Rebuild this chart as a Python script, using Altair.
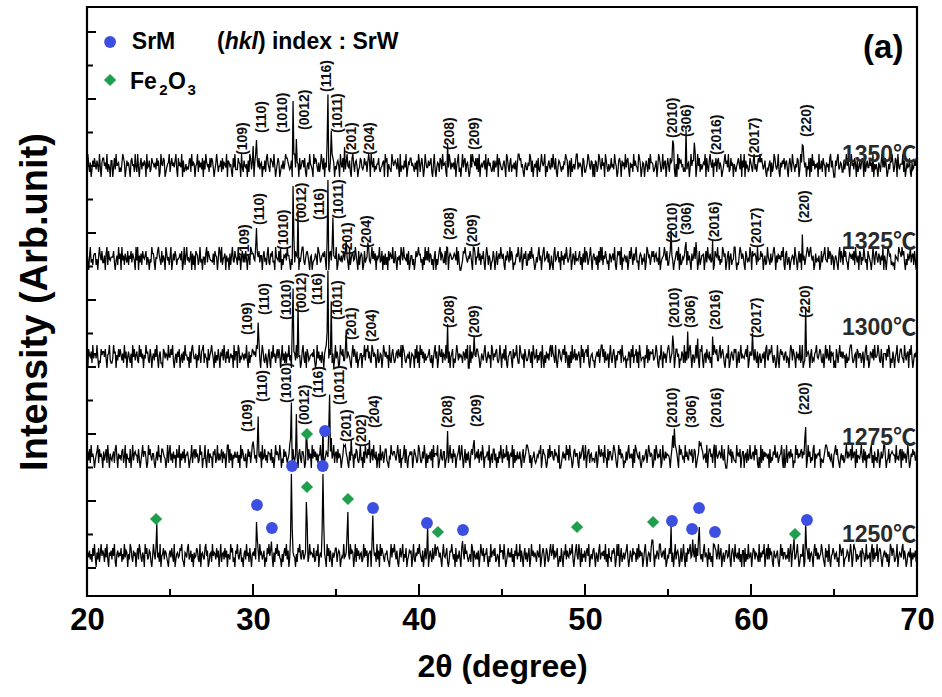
import altair as alt
import pandas as pd

X_MIN, X_MAX = 20.0, 70.0

temps = ["1250", "1275", "1300", "1325", "1350"]
offsets = [41, 140, 240, 338, 431]

# noise digits (read as levels through NOISE_LEVELS)
NOISE_LEVELS = [-12, -7, -4.5, -2.5, -1, 1, 2.5, 4.5, 7, 11]

noise_1250 = (
    "46372518493062815947518392064728491057364815293760"
    "52983174605829731640958237610495287361904582763105"
    "73841902563487921065389247150634872190563289470156"
    "19465283704915628370542968130759426813057294618305"
    "64820371956247031859472306185947320516849270315864"
    "30518694277246081395653812749046381752094817206358"
    "81576024393468102957603918472561293847056702384619"
    "27094863155721049386952710483691538024767039216485"
    "95317048266037418259481736205943581027696250814372"
    "08462957313519807426270396481558204193674812530967"
    "72940158363815074926491730582615802947364175390268"
    "50386127946927358014183065927438569203714296081537"
    "16849035278306417925647291508331758602949048136257"
    "93027418565182937460279403651881604375299536728014"
    "38571604926740281593061857934263918470525179364082"
    "61409387259258036147734920685194362815077081529346"
    "04872653191637590482928561074357103948266243817905"
    "87236940154490163728156307948262459731083719204586"
    "25613098478023476159603987152447086513924360791825"
    "49168720357361502984871249036538927401563806254719"
)
noise_1275 = (
    "57281946302579184630725819406325718940635278149063"
    "31804926755183026947730195842661037294518864302917"
    "92617350844906273815573024916838461295703392058164"
    "40758139262581736049918260537447150938622603847159"
    "68351920470934825176628140395752960318474135962083"
    "25940683177401592836093847261559318024764827035916"
    "71836402593964107285506387214924071963855168294370"
    "36092571488210439657742695180336918204575703864129"
    "84127395061537280946659014832770248159361846035792"
    "59403816272068591347381572960445729036188260417395"
    "18364927056490815273372058146998615034721254769038"
    "65201839477328564190014736295829530178466107358924"
    "90478156233157029648561943082774269851039583640217"
    "27935460819864371025236815974650182973548019427365"
    "53048617926209586341947320658138701465928734619058"
    "84617209535763942810039658174221956480377056182493"
    "36729581040918274653608132759447135692080291573846"
    "02195836478375610294714289063565803214799847326105"
    "79583104625126937458293670815436941827053638915072"
    "41860273599402381567655193427808273615940164857239"
)
noise_1300 = (
    "20854719366394021857748305692113967052848526193704"
    "73160948257219483605396721850462849305711087365294"
    "48592036174803617295524071896336052941789164308257"
    "96307152840658294173813645092770981436526392071548"
    "15749826305972163048207394615838504926171649250837"
    "62938450179417086235564820193725173068942385716029"
    "37401965822893754106948517023660549287137219846503"
    "81265039747350921684126738549098621453702654083917"
    "09583716244682150379370295481652938170468031597264"
    "54176283900917362548853016427941473509826478213950"
    "63829104577208365941197436085224851709634815267093"
    "05173628949641920387326859174050719348262573094816"
    "78491035622035748169948172360593168405277681952340"
    "32760849155817096234405391827668235971043940736158"
    "97146250388460327519172638940551493620879205618437"
    "14035976822793685104639015742878027169354368490275"
    "59628317046125470893286794153019306857426714305982"
    "86307452913901284675058132679435872160493842917560"
    "20851694737450613289941256087366147038925017638294"
    "45972183066628497031730469215884319526708593026471"
)
noise_1325 = (
    "83059241677140596382260791843555820361947093617428"
    "16482753093906271854681530429772054896318264097351"
    "59027386144573802916935248071608761392405517928643"
    "32718650498291457063407169328541936058272840651937"
    "74390158266058341792176823095438290416573966204185"
    "28651043799314786205602347519862467583011078392654"
    "90174362583865209147734962081576018245793259483706"
    "45923806171508376492283054619739543718026614028579"
    "67240519383927614058041589376228193057644576391820"
    "01387964254862093715593716482059716402385038157496"
    "47106385293860214759625903748117384956201527936048"
    "93458270161079346825083617495246902751834368150729"
    "28713694057451608293916485230762573910486819043652"
    "60284951737923057614370298561485826734190245697381"
    "15896302478390712546941836207359457028136670382954"
    "72340186593614298570268057134993021698475108624397"
    "08627519344857036129531724896062746385910781350246"
    "51963048270236147985895360172436018257943294871650"
    "36410792851958320476473819526087153962408642039517"
    "84275163906304985712120654398759682041735926718304"
)
noise_1350 = (
    "39516027485274193068846291530770382945613159860274"
    "62078451931930582647509347128653628470195487013569"
    "15846379208463907125232781946504591736280729645183"
    "87302596144718265390764510839222865093174350719826"
    "40691738256042718953187639402586014372598864237051"
    "93165082477381046295420958731614972806353217598604"
    "26740953815269437108951674023873248561097096381425"
    "58213467096805321974675283091442739026588453162709"
    "71584029633746810592036518729456108397254628047913"
    "04937815620193576482819045367290584631271735908642"
    "25730984168143627059978351046226498170353708215964"
    "69041573283952810476314265987047081352699264530871"
    "13598427605076139842846097315238352964017850746293"
    "78206351947431985026503741829665124703985139267048"
    "41867392050928674513182560394777603948152465908317"
    "95320648178264013795739128460531468529073907341286"
    "30792514869685247103257061398424910637582672058419"
    "64153870296197360428081947253609237185406451893720"
    "07489236511725948306946285071372586091473384619052"
    "52064179383840152769613870942555917026348106237485"
)
noises = [noise_1250, noise_1275, noise_1300, noise_1325, noise_1350]

# peak positions (2theta) and heights above baseline
pk_1250_x = [24.2, 30.2, 30.25, 31.1, 32.25, 32.3, 32.35, 33.2, 33.25, 34.15, 34.2, 34.25,
             35.65, 35.7, 35.75, 37.15, 37.2, 40.5, 41.1, 42.6, 49.5, 54.05, 54.1, 55.2, 56.5,
             56.85, 56.9, 57.8, 62.6, 63.3, 63.35]
pk_1250_h = [27, 45, 18, 18, 25, 80, 20, 65, 25, 18, 88, 25,
             14, 50, 12, 15, 42, 27, 15, 15, 18, 8, 22, 25, 20,
             12, 40, 13, 12, 30, 10]
pk_1275_x = [30.0, 30.3, 30.35, 32.25, 32.3, 32.6, 33.2, 34.2, 34.55, 34.6, 34.7, 35.5, 35.9,
             37.0, 41.7, 43.3, 55.3, 55.35, 55.4, 55.5, 56.3, 56.9, 57.0, 57.8, 63.25, 63.3]
pk_1275_h = [12, 44, 12, 15, 58, 31, 25, 22, 20, 66, 30, 12, 10,
             15, 18, 23, 18, 15, 23, 12, 19, 14, 17, 16, 15, 36]
pk_1300_x = [30.0, 30.3, 30.35, 32.35, 32.4, 32.7, 34.45, 34.5, 34.7, 35.6, 36.9, 41.7, 43.3,
             55.3, 55.35, 56.2, 56.8, 57.7, 60.1, 63.3]
pk_1300_h = [12, 38, 12, 20, 70, 45, 25, 90, 50, 15, 18, 25, 25, 25, 10, 22, 15, 22, 12, 42]
pk_1325_x = [29.9, 30.2, 30.25, 32.4, 32.45, 32.7, 34.45, 34.5, 34.8, 35.6, 36.9, 41.7, 43.3,
             55.2, 56.1, 56.7, 57.7, 60.2, 63.1]
pk_1325_h = [10, 42, 12, 65, 20, 55, 25, 85, 45, 15, 11, 13, 13, 17, 17, 15, 18, 8, 28]
pk_1350_x = [30.0, 30.2, 32.4, 32.45, 32.6, 34.45, 34.5, 34.7, 35.5, 36.9, 41.7, 43.2, 55.3,
             55.35, 56.1, 56.6, 56.65, 57.7, 60.1, 63.1, 63.15]
pk_1350_h = [20, 32, 63, 18, 33, 22, 73, 33, 17, 15, 15, 10, 27, 10, 28, 18, 10, 10, 5, 27, 8]
peaks = [(pk_1250_x, pk_1250_h), (pk_1275_x, pk_1275_h), (pk_1300_x, pk_1300_h),
         (pk_1325_x, pk_1325_h), (pk_1350_x, pk_1350_h)]

# (hkl) labels: text, x (2theta of label centre), y (bottom of label)
hkl_1350 = ["(109)", "(110)", "(1010)", "(0012)", "(116)", "(1011)", "(201)", "(204)", "(208)",
            "(209)", "(2010)", "(306)", "(2016)", "(2017)", "(220)"]
hx_1350 = [29.40, 30.54, 31.81, 33.13, 34.46, 35.12, 35.96, 37.05, 41.87, 43.37, 55.30, 56.14, 57.95, 60.24, 63.37]
hy_1350 = [441, 463, 463, 466, 504, 463, 441, 441, 446, 446, 458, 459, 441, 438, 459]
hkl_1325 = hkl_1350
hx_1325 = [29.52, 30.42, 31.87, 32.95, 34.04, 35.18, 35.72, 36.87, 41.87, 43.25, 55.30, 56.14, 57.83, 60.36, 63.25]
hy_1325 = [339, 371, 346, 373, 376, 377, 341, 348, 356, 349, 353, 361, 354, 348, 373]
hkl_1300 = hkl_1350
hx_1300 = [29.70, 30.72, 32.05, 32.95, 33.92, 35.12, 35.96, 37.17, 41.87, 43.37, 55.42, 56.39, 57.89, 60.36, 63.31]
hy_1300 = [261, 281, 276, 283, 291, 276, 256, 254, 268, 258, 268, 268, 266, 258, 278]
hkl_1275 = ["(109)", "(110)", "(1010)", "(0012)", "(116)", "(1011)", "(201)", "(202)", "(204)",
            "(208)", "(209)", "(2010)", "(306)", "(2016)", "(220)"]
hx_1275 = [29.70, 30.60, 32.05, 33.13, 33.98, 35.24, 35.66, 36.57, 37.35, 41.75, 43.49, 55.30, 56.45, 57.95, 63.25]
hy_1275 = [164, 194, 193, 171, 198, 191, 154, 149, 168, 168, 169, 168, 168, 168, 181]

# phase markers
srm_x = [30.24, 31.14, 32.35, 34.2, 37.23, 40.48, 42.65, 55.24, 56.45, 56.87, 57.83, 63.37, 34.34]
srm_y = [91, 68, 130, 130, 88, 73, 66, 75, 67, 88, 64, 76, 165]
fe_x = [24.16, 33.25, 35.72, 41.14, 49.52, 54.1, 62.65, 33.25]
fe_y = [77, 109, 97, 64, 69, 74, 62, 162]

temp_label_y = [61, 158, 268, 354, 441]
x_major = [20, 30, 40, 50, 60, 70]
x_minor = [25, 35, 45, 55, 65]
y_major = [28, 95, 162, 229, 296, 363, 430, 497, 564]
y_minor = [61.5, 128.5, 195.5, 262.5, 329.5, 396.5, 463.5, 530.5]

FONT = "Liberation Sans, Arial, Noto Sans CJK SC"
BLUE = "#3c4fe0"
GREEN = "#1f9e4e"

# ---- build tables
rows = []
for t, off, s, (px, ph) in zip(temps, offsets, noises, peaks):
    n = len(s)
    step = (X_MAX - X_MIN) / (n - 1)
    yv = [off + NOISE_LEVELS[int(c)] for c in s]
    for p, h in zip(px, ph):
        yv[int(round((p - X_MIN) / step))] += h
    for i, y in enumerate(yv):
        rows.append({"t": t, "x": X_MIN + i * step, "y": y})
trace_df = pd.DataFrame(rows)

lab_rows = []
for names, xv, yv in [(hkl_1350, hx_1350, hy_1350), (hkl_1325, hx_1325, hy_1325),
                      (hkl_1300, hx_1300, hy_1300), (hkl_1275, hx_1275, hy_1275)]:
    for a, b, c in zip(names, xv, yv):
        lab_rows.append({"x": b, "y": c, "txt": a})
lab_df = pd.DataFrame(lab_rows)

xs = alt.Scale(domain=[X_MIN, X_MAX], nice=False, zero=False)
ys = alt.Scale(domain=[0, 589], nice=False, zero=False)

AX = alt.Axis(values=x_major, ticks=False, domain=False, grid=False,
              labelFont=FONT, labelFontSize=31, labelFontWeight="bold",
              labelColor="black", labelPadding=9, labelFlush=False,
              titleFont=FONT, titleFontSize=32, titleFontWeight="bold",
              titleColor="black", titlePadding=16)
AY = alt.Axis(labels=False, ticks=False, domain=False, grid=False,
              titleFont=FONT, titleFontSize=38, titleFontWeight="bold",
              titleColor="black", titlePadding=33)
XT = "2θ (degree)"
YT = "Intensity (Arb.unit)"


def X(field="x"):
    return alt.X(f"{field}:Q", scale=xs, axis=AX, title=XT)


def Y(field="y"):
    return alt.Y(f"{field}:Q", scale=ys, axis=AY, title=YT)


lines = alt.Chart(trace_df).mark_line(color="black", strokeWidth=1.25).encode(
    x=X(), y=Y(), detail="t:N")

srm = alt.Chart(pd.DataFrame({"x": srm_x, "y": srm_y})).mark_point(
    shape="circle", filled=True, size=140, color=BLUE, opacity=1).encode(x=X(), y=Y())
fe = alt.Chart(pd.DataFrame({"x": fe_x, "y": fe_y})).mark_point(
    shape="diamond", filled=True, size=150, color=GREEN, opacity=1).encode(x=X(), y=Y())

hkl = alt.Chart(lab_df).mark_text(angle=270, align="left", baseline="middle", font=FONT,
                                  fontSize=14, fontWeight="bold", color="#111").encode(
    x=X(), y=Y(), text="txt:N")

temp_df = pd.DataFrame({"x": [65.48] * 5, "y": temp_label_y, "txt": [t + "℃" for t in temps]})
temp_txt = alt.Chart(temp_df).mark_text(align="left", baseline="middle", font=FONT,
                                        fontSize=23, fontWeight="bold", color="#2a2a2a").encode(
    x=X(), y=Y(), text="txt:N")

# legend / annotations
leg_sym_b = alt.Chart(pd.DataFrame({"x": [21.39], "y": [554]})).mark_point(
    shape="circle", filled=True, size=140, color=BLUE, opacity=1).encode(x=X(), y=Y())
leg_sym_g = alt.Chart(pd.DataFrame({"x": [21.39], "y": [516]})).mark_point(
    shape="diamond", filled=True, size=150, color=GREEN, opacity=1).encode(x=X(), y=Y())

big_txt = pd.DataFrame({
    "x": [22.70, 27.83, 30.30, 31.14, 22.59, 24.88, 66.75],
    "y": [554, 554, 554, 554, 514, 514, 548],
    "txt": ["SrM", "(", ")", "index : SrW", "Fe", "O", "(a)"],
    "size": [23, 23, 23, 23, 23, 23, 33],
})
big = alt.Chart(big_txt).mark_text(align="left", baseline="middle", font=FONT,
                                   fontWeight="bold", color="black").encode(
    x=X(), y=Y(), text="txt:N", size=alt.Size("size:Q", scale=None, legend=None))
ital = alt.Chart(pd.DataFrame({"x": [28.30], "y": [554], "txt": ["hkl"]})).mark_text(
    align="left", baseline="middle", font=FONT, fontSize=23, fontWeight="bold",
    fontStyle="italic", color="black").encode(x=X(), y=Y(), text="txt:N")
subs = alt.Chart(pd.DataFrame({"x": [24.35, 26.05], "y": [506, 506], "txt": ["2", "3"]})).mark_text(
    align="left", baseline="middle", font=FONT, fontSize=15, fontWeight="bold",
    color="black").encode(x=X(), y=Y(), text="txt:N")

# inward ticks
xt_major = alt.Chart(pd.DataFrame({"v": x_major})).mark_rule(color="black", strokeWidth=2).encode(
    x=X("v"), y=alt.value(589), y2=alt.value(577))
xt_minor = alt.Chart(pd.DataFrame({"v": x_minor})).mark_rule(color="black", strokeWidth=2).encode(
    x=X("v"), y=alt.value(589), y2=alt.value(582))
yt_major = alt.Chart(pd.DataFrame({"v": y_major})).mark_rule(color="black", strokeWidth=2).encode(
    y=Y("v"), x=alt.value(0), x2=alt.value(9))
yt_minor = alt.Chart(pd.DataFrame({"v": y_minor})).mark_rule(color="black", strokeWidth=2).encode(
    y=Y("v"), x=alt.value(0), x2=alt.value(6))

chart = alt.layer(
    lines, xt_major, xt_minor, yt_major, yt_minor, srm, fe, hkl, temp_txt,
    leg_sym_b, leg_sym_g, big, ital, subs,
).properties(
    width=830, height=589,
    padding={"left": 87, "top": 7, "right": 25, "bottom": 101},
    autosize=alt.AutoSizeParams(type="none"),
    background="white",
).configure_view(stroke="black", strokeWidth=2.2)

chart.save("out.html", embed_options={"renderer": "svg", "actions": False})
